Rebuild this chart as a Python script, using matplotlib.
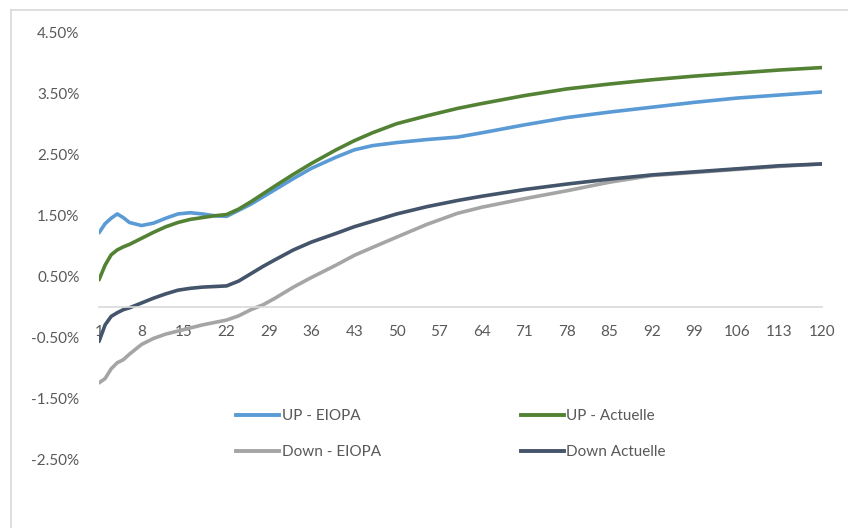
import matplotlib.pyplot as plt
from matplotlib.lines import Line2D
from matplotlib.ticker import FuncFormatter

# maturités (années) et taux (%)
maturite = [1, 2, 3, 4, 5, 6, 8, 10, 12, 14, 16, 18, 20, 22, 24, 26, 28, 30,
            33, 36, 40, 43, 46, 50, 55, 60, 64, 71, 78, 85, 92, 99, 106, 113, 120]

up_eiopa = [1.21, 1.36, 1.45, 1.52, 1.46, 1.38, 1.33, 1.37, 1.45, 1.52, 1.54, 1.52,
            1.49, 1.48, 1.58, 1.68, 1.80, 1.92, 2.10, 2.27, 2.45, 2.57, 2.64, 2.69,
            2.74, 2.78, 2.85, 2.98, 3.10, 3.19, 3.27, 3.35, 3.42, 3.47, 3.52]

up_actuelle = [0.44, 0.68, 0.85, 0.93, 0.98, 1.02, 1.12, 1.22, 1.31, 1.38, 1.43, 1.46,
               1.49, 1.51, 1.60, 1.72, 1.85, 1.98, 2.17, 2.35, 2.57, 2.72, 2.85, 3.00,
               3.13, 3.25, 3.33, 3.46, 3.57, 3.65, 3.72, 3.78, 3.83, 3.88, 3.92]

down_eiopa = [-1.25, -1.18, -1.02, -0.92, -0.87, -0.78, -0.62, -0.52, -0.45, -0.40,
              -0.35, -0.30, -0.26, -0.22, -0.15, -0.05, 0.03, 0.14, 0.32, 0.48, 0.68,
              0.84, 0.97, 1.14, 1.35, 1.53, 1.63, 1.77, 1.90, 2.04, 2.15, 2.20, 2.25,
              2.30, 2.34]

down_actuelle = [-0.57, -0.30, -0.16, -0.10, -0.05, -0.02, 0.06, 0.14, 0.21, 0.27, 0.30,
                 0.32, 0.33, 0.34, 0.42, 0.54, 0.66, 0.77, 0.93, 1.06, 1.20, 1.31, 1.40,
                 1.52, 1.64, 1.74, 1.81, 1.92, 2.01, 2.09, 2.16, 2.21, 2.26, 2.31, 2.34]

x_ticks = list(range(1, 121, 7))
y_ticks = [-2.5, -1.5, -0.5, 0.5, 1.5, 2.5, 3.5, 4.5]

series = [
    ('UP - EIOPA', up_eiopa, '#5B9BD5'),
    ('UP - Actuelle', up_actuelle, '#548235'),
    ('Down - EIOPA', down_eiopa, '#A5A5A5'),
    ('Down Actuelle', down_actuelle, '#44546A'),
]

plt.rcParams['font.family'] = ['Lato', 'DejaVu Sans']
txt_color = '#595959'

fig = plt.figure(figsize=(8.48, 5.28), dpi=100)
ax = fig.add_axes([99 / 848, 14 / 528, 723 / 848, 494 / 528])

for name, vals, col in series:
    ax.plot(maturite, vals, color=col, lw=2.6, solid_capstyle='round', label=name)

ax.set_xlim(1, 120)
ax.set_ylim(-3.4, 4.7)
ax.set_xticks(x_ticks)
ax.set_yticks(y_ticks)
ax.yaxis.set_major_formatter(FuncFormatter(lambda v, p: f'{v:.2f}%'))

for s in ['top', 'right', 'left']:
    ax.spines[s].set_visible(False)
ax.spines['bottom'].set_position(('data', 0))
ax.spines['bottom'].set_color('#D9D9D9')
ax.spines['bottom'].set_linewidth(1.2)
ax.tick_params(axis='both', length=0, labelsize=11, labelcolor=txt_color)
ax.tick_params(axis='x', pad=13)
ax.tick_params(axis='y', pad=14)

handles = [Line2D([], [], color=c, lw=2.8) for _, _, c in series]
labels = [n for n, _, _ in series]
order = [0, 2, 1, 3]
leg = ax.legend([handles[i] for i in order], [labels[i] for i in order],
                ncol=2, loc='center', bbox_to_anchor=(0.487, (528 - 434 - 14) / 494),
                frameon=False, fontsize=11, handlelength=2.8, handletextpad=0.15,
                columnspacing=9.2, labelspacing=1.45)
for t in leg.get_texts():
    t.set_color(txt_color)

# bordure du graphique
fig.add_artist(Line2D([11 / 848, 11 / 848], [0, 1 - 10 / 528], color='#D9D9D9', lw=1.2))
fig.add_artist(Line2D([11 / 848, 1], [1 - 10 / 528, 1 - 10 / 528], color='#D9D9D9', lw=1.2))

plt.savefig('out.png', dpi=100)
